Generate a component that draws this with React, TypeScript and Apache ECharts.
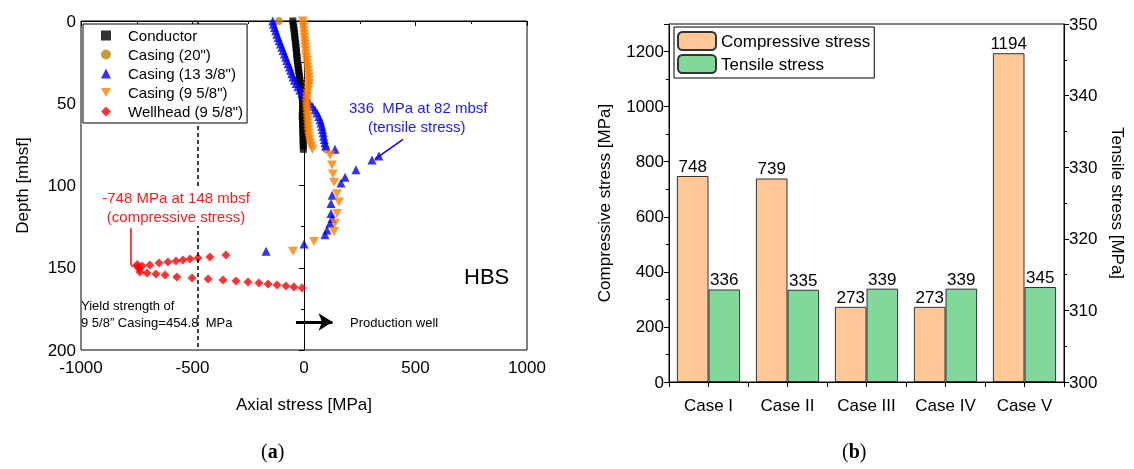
import React, { useEffect, useRef } from "react";
import * as echarts from "echarts";

// ---------- Panel (a) data: [axial stress MPa, depth mbsf] ----------
const conductor: number[][] = [
  [-50, 0], [-48, 2], [-46, 4], [-44, 6], [-42, 8], [-41, 10], [-39, 12], [-37, 14], [-36, 16], [-34, 18],
  [-33, 20], [-31, 22], [-30, 24], [-28, 26], [-26, 28], [-24, 30], [-22, 32], [-20, 34], [-18, 36], [-16, 38],
  [-14, 40], [-12, 42], [-10, 44], [-8, 46], [-7, 48], [-6, 50], [-6, 52], [-7, 54], [-7, 56], [-8, 58],
  [-7, 60], [-6, 62], [-6, 64], [-5, 66], [-5, 68], [-4, 70], [-4, 72], [-4, 74], [-3, 76], [-3, 78],
];
const casing20: number[][] = [[-112, 0], [100, 78]];
const casing1338: number[][] = [
  [-140, 0], [-137, 2], [-132, 4], [-127, 6], [-122, 8], [-116, 10], [-111, 12], [-105, 14], [-99, 16], [-94, 18],
  [-88, 20], [-82, 22], [-77, 24], [-71, 26], [-65, 28], [-60, 30], [-55, 32], [-49, 34], [-43, 36], [-35, 38],
  [-27, 40], [-18, 42], [-8, 44], [2, 46], [14, 48], [26, 50], [38, 52], [49, 54], [58, 56], [66, 58],
  [72, 60], [76, 62], [80, 64], [83, 66], [86, 68], [88, 70], [91, 72], [94, 74], [97, 76], [139, 78],
  [336, 82], [305, 84.5], [233, 90.5], [184, 95], [166, 98.5], [126, 106], [121, 111], [121, 117], [126, 120],
  [117, 123], [103, 127], [94, 130], [0, 135.5], [-170, 140],
];
const casing958: number[][] = [
  [-5, 0], [-4, 2], [-2, 4], [0, 6], [1, 8], [2, 10], [4, 12], [5, 14], [6, 16], [8, 18],
  [9, 20], [11, 22], [13, 24], [14, 26], [16, 28], [18, 30], [20, 32], [21, 34], [22, 36], [22, 38],
  [20, 40], [18, 42], [16, 44], [14, 46], [13, 48], [12, 50], [12, 52], [13, 54], [14, 56], [15, 58],
  [16, 60], [17, 62], [18, 64], [19, 66], [20, 68], [22, 70], [25, 72], [28, 74], [33, 76], [38, 78],
  [117, 81.5], [126, 87.5], [130, 93], [135, 98], [148, 105], [157, 110], [148, 117], [139, 123],
  [135, 128], [45, 134], [-49, 140],
];
const wellhead: number[][] = [
  [-748, 148], [-745, 149.5], [-740, 150.5], [-726, 148.9], [-691, 148.3], [-650, 147.1], [-610, 146.5],
  [-574, 145.9], [-543, 145.3], [-511, 144.7], [-475, 144.1], [-422, 143.5], [-350, 142.2],
  [-735, 152.6], [-704, 153.2], [-664, 153.8], [-623, 154.4], [-570, 155.6], [-502, 156.2], [-430, 156.8],
  [-363, 157.4], [-305, 158.1], [-251, 158.7], [-202, 159.3], [-161, 159.9], [-121, 160.5], [-81, 161.1],
  [-45, 161.7], [-9, 162.3],
];
const yieldStrength = -475;
const xTicks = { min: -1000, max: 1000, interval: 500 };
const yTicks = { min: 0, max: 200, interval: 50 };

// ---------- Panel (b) data ----------
const cases = ["Case I", "Case II", "Case III", "Case IV", "Case V"];
const compressive = [748, 739, 273, 273, 1194];
const tensile = [336, 335, 339, 339, 345];

const FONT = 'Arial, "Liberation Sans", sans-serif';

export default function App() {
  const ref = useRef<HTMLDivElement>(null);
  useEffect(() => {
    const chart = echarts.init(ref.current!, null, { renderer: "svg" });
    const axisLine = { show: true, lineStyle: { color: "#000", width: 1 } };
    const plain = (v: number) => String(v);
    const lbl = { color: "#000", fontSize: 17, fontFamily: FONT, formatter: plain };
    const nameStyle = { color: "#000", fontSize: 17, fontFamily: FONT };
    const downTri = "path://M0,0 L10,0 L5,9 Z";

    const option: any = {
      animation: false,
      textStyle: { fontFamily: FONT },
      grid: [
        { left: 81, top: 21, width: 446, height: 329, show: true, borderColor: "#000", borderWidth: 1, backgroundColor: "transparent" },
        { left: 669, top: 24, width: 395, height: 358, show: true, borderColor: "#000", borderWidth: 1, backgroundColor: "transparent" },
      ],
      legend: [
        {
          data: ["Conductor", 'Casing (20")', 'Casing (13 3/8")', 'Casing (9 5/8")', 'Wellhead (9 5/8")'],
          orient: "vertical", left: 83, top: 24, padding: [4, 4, 4, 18], itemGap: 4,
          itemWidth: 10, itemHeight: 10,
          textStyle: { fontSize: 15, color: "#000", fontFamily: FONT, padding: [0, 0, 0, 12] },
          borderColor: "#000", borderWidth: 1, backgroundColor: "#fff", z: 10,
        },
        {
          data: ["Compressive stress", "Tensile stress"],
          orient: "vertical", left: 674, top: 27, padding: [4, 4, 4, 3], itemGap: 3,
          itemWidth: 38, itemHeight: 18,
          textStyle: { fontSize: 17, color: "#000", fontFamily: FONT },
          borderColor: "#000", borderWidth: 1, backgroundColor: "#fff", z: 10,
        },
      ],
      xAxis: [
        {
          type: "value", gridIndex: 0, ...xTicks,
          axisLine, splitLine: { show: false },
          axisTick: { show: true, length: 5, lineStyle: { color: "#000" } },
          minorTick: { show: true, splitNumber: 2, length: 3, lineStyle: { color: "#000" } },
          axisLabel: { ...lbl, margin: 9 },
          name: "Axial stress [MPa]", nameLocation: "middle", nameGap: 46, nameTextStyle: nameStyle,
        },
        {
          type: "category", gridIndex: 1, data: cases,
          axisLine, axisTick: { show: false },
          axisLabel: { color: "#000", fontSize: 17, fontFamily: FONT, margin: 15 },
        },
        {
          type: "category", gridIndex: 1, data: ["", "", "", "", "", "", "", "", "", ""],
          position: "bottom",
          axisLine: { show: false },
          axisTick: { show: true, length: 5, lineStyle: { color: "#000" } },
          axisLabel: { show: false },
        },
      ],
      yAxis: [
        {
          type: "value", gridIndex: 0, inverse: true, ...yTicks,
          axisLine, splitLine: { show: false },
          axisTick: { show: true, length: 5, lineStyle: { color: "#000" } },
          minorTick: { show: true, splitNumber: 2, length: 3, lineStyle: { color: "#000" } },
          axisLabel: { ...lbl, margin: 5 },
          name: "Depth [mbsf]", nameLocation: "middle", nameGap: 50, nameRotate: 90, nameTextStyle: nameStyle,
        },
        {
          type: "value", gridIndex: 1, min: 0, max: 1300, interval: 200,
          axisLine, splitLine: { show: false },
          axisTick: { show: true, length: 5, lineStyle: { color: "#000" } },
          minorTick: { show: true, splitNumber: 2, length: 3, lineStyle: { color: "#000" } },
          axisLabel: { ...lbl, margin: 5, showMaxLabel: false },
          name: "Compressive stress [MPa]", nameLocation: "middle", nameGap: 56, nameRotate: 90, nameTextStyle: nameStyle,
        },
        {
          type: "value", gridIndex: 1, position: "right", min: 300, max: 350, interval: 10,
          axisLine, splitLine: { show: false },
          axisTick: { show: true, length: 5, lineStyle: { color: "#000" } },
          minorTick: { show: true, splitNumber: 2, length: 3, lineStyle: { color: "#000" } },
          axisLabel: { ...lbl, margin: 5 },
          name: "Tensile stress [MPa]", nameLocation: "middle", nameGap: 45, nameRotate: -90, nameTextStyle: nameStyle,
        },
      ],
      series: [
        {
          name: "Conductor", type: "scatter", xAxisIndex: 0, yAxisIndex: 0, data: conductor,
          symbol: "rect", symbolSize: 7, itemStyle: { color: "#000" },
          markLine: {
            silent: true, symbol: ["none", "none"], label: { show: false },
            lineStyle: { color: "#000", width: 1.5, type: [4, 3] },
            data: [[{ coord: [yieldStrength, yTicks.min] }, { coord: [yieldStrength, yTicks.max] }]],
          },
        },
        {
          name: 'Casing (20")', type: "scatter", xAxisIndex: 0, yAxisIndex: 0, data: casing20,
          symbol: "circle", symbolSize: 8, itemStyle: { color: "#B8860B" },
          markLine: {
            silent: true, symbol: ["none", "arrow"], symbolSize: [13, 14], label: { show: false },
            lineStyle: { color: "#000", width: 3, type: "solid" },
            data: [[{ coord: [-36, 183] }, { coord: [128, 183] }]],
          },
        },
        {
          name: 'Casing (13 3/8")', type: "scatter", xAxisIndex: 0, yAxisIndex: 0, data: casing1338,
          symbol: "triangle", symbolSize: 9, itemStyle: { color: "#0000FF" },
          markLine: {
            silent: true, symbol: ["none", "none"], label: { show: false },
            lineStyle: { color: "#0000FF", width: 1.5, type: "solid" },
            data: [[{ coord: [444, 72] }, { coord: [318, 84] }]],
          },
        },
        {
          name: 'Casing (9 5/8")', type: "scatter", xAxisIndex: 0, yAxisIndex: 0, data: casing958,
          symbol: downTri, symbolSize: [10, 9], itemStyle: { color: "#FF8000" },
        },
        {
          name: 'Wellhead (9 5/8")', type: "scatter", xAxisIndex: 0, yAxisIndex: 0, data: wellhead,
          symbol: "diamond", symbolSize: 9, itemStyle: { color: "#FF0000" },
          markLine: {
            silent: true, symbol: ["none", "none"], label: { show: false },
            lineStyle: { color: "#FF0000", width: 1.5, type: "solid" },
            data: [
              [{ coord: [-776, 126] }, { coord: [-776, 148.5] }],
              [{ coord: [-776, 148.5] }, { coord: [-752, 148.5] }],
            ],
          },
        },
        {
          name: "Compressive stress", type: "bar", xAxisIndex: 1, yAxisIndex: 1, data: compressive,
          barWidth: "40%", barGap: "0%",
          itemStyle: { color: "#FFC896", borderColor: "#333", borderWidth: 1 },
          label: { show: true, position: "top", distance: 1, color: "#000", fontSize: 17, fontFamily: FONT },
        },
        {
          name: "Tensile stress", type: "bar", xAxisIndex: 1, yAxisIndex: 1, data: tensile,
          barWidth: "40%", barGap: "0%",
          itemStyle: { color: "#80D89B", borderColor: "#333", borderWidth: 1 },
          label: { show: true, position: "top", distance: 1, color: "#000", fontSize: 17, fontFamily: FONT },
        },
      ],
      graphic: [
        { type: "text", left: 349, top: 100, style: { text: "336  MPa at 82 mbsf", fill: "#1a1aff", font: `15px ${FONT}` } },
        { type: "text", left: 368, top: 119, style: { text: "(tensile stress)", fill: "#1a1aff", font: `15px ${FONT}` } },
        {
          type: "text", x: 176, y: 188, z: 20,
          style: {
            text: "-748 MPa at 148 mbsf\n(compressive stress)", fill: "#ff1a1a", font: `15px ${FONT}`,
            align: "center", verticalAlign: "top", lineHeight: 19, backgroundColor: "#fff",
          },
        },
        { type: "text", left: 464, top: 265, style: { text: "HBS", fill: "#000", font: `22px ${FONT}` } },
        { type: "text", left: 81, top: 299, style: { text: "Yield strength of", fill: "#000", font: `13px ${FONT}` } },
        { type: "text", left: 81, top: 316, style: { text: "9 5/8\u201d Casing=454.8  MPa", fill: "#000", font: `13px ${FONT}` } },
        { type: "text", left: 350, top: 316, style: { text: "Production well", fill: "#000", font: `13px ${FONT}` } },
        {
          type: "text", left: 261, top: 441,
          style: {
            text: "({a|a})", fill: "#000", font: `20px "Liberation Serif", serif`,
            rich: { a: { fontWeight: "bold", fontSize: 20, fontFamily: '"Liberation Serif", serif' } },
          },
        },
        {
          type: "text", left: 842, top: 441,
          style: {
            text: "({b|b})", fill: "#000", font: `20px "Liberation Serif", serif`,
            rich: { b: { fontWeight: "bold", fontSize: 20, fontFamily: '"Liberation Serif", serif' } },
          },
        },
      ],
    };
    chart.setOption(option);
    return () => chart.dispose();
  }, []);
  return <div ref={ref} style={{ position: "fixed", left: 0, top: 0, width: 1134, height: 469 }} />;
}
